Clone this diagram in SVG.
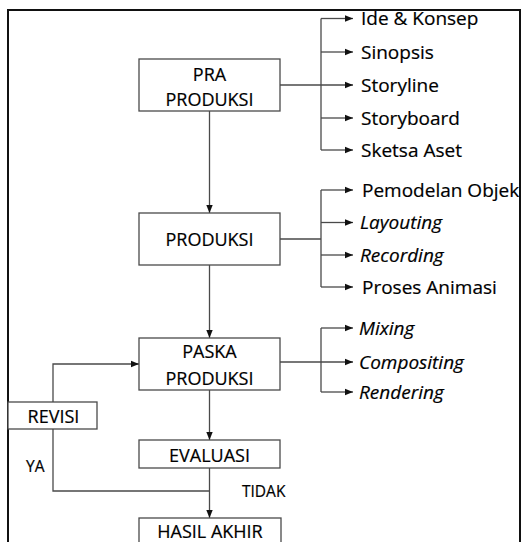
<svg xmlns="http://www.w3.org/2000/svg" width="525" height="542" viewBox="0 0 525 542">
<style>
.box{fill:#fff;stroke:#4a4a4a;stroke-width:1.3}
.bt{font-family:"Open Sans","Noto Sans",sans-serif;font-size:18px;fill:#000;stroke:#000;stroke-width:0.2;text-anchor:middle}
.it{font-family:"Open Sans","Noto Sans",sans-serif;font-size:19px;fill:#000;stroke:#000;stroke-width:0.2}
.itl{font-style:italic}
.lb{font-family:"Open Sans","Noto Sans",sans-serif;font-size:15.5px;fill:#000;stroke:#000;stroke-width:0.2}
.ln{fill:none;stroke:#4a4a4a;stroke-width:1.3}
.ar{marker-end:url(#ah)}
</style>
<defs>
<marker id="ah" markerUnits="userSpaceOnUse" markerWidth="9" markerHeight="8" refX="8" refY="4" orient="auto">
<path d="M0,0.8 L8,4 L0,7.2 Z" fill="#111"/>
</marker>
</defs>
<rect width="525" height="542" fill="#fff"/>
<rect x="8" y="10" width="512" height="545" fill="none" stroke="#111" stroke-width="2"/>
<g id="connectors">
<path class="ln ar" d="M209.5,111 V213"/>
<path class="ln ar" d="M209.5,265 V338"/>
<path class="ln ar" d="M209.5,390 V440"/>
<path class="ln ar" d="M209.5,468 V518"/>
<path class="ln ar" d="M53,402 V364 H139"/>
<path class="ln" d="M53,429 V491 H209.5"/>
<path class="ln" d="M321,18.5 V150"/>
<path class="ln ar" d="M321,18.5 H353"/>
<path class="ln ar" d="M321,52 H353"/>
<path class="ln ar" d="M280,85 H353"/>
<path class="ln ar" d="M321,118 H353"/>
<path class="ln ar" d="M321,150 H353"/>
<path class="ln" d="M280,239 H321 M321,190 V287"/>
<path class="ln ar" d="M321,190 H353"/>
<path class="ln ar" d="M321,222.5 H353"/>
<path class="ln ar" d="M321,255 H353"/>
<path class="ln ar" d="M321,287 H353"/>
<path class="ln" d="M321,328 V392"/>
<path class="ln ar" d="M321,328 H353"/>
<path class="ln ar" d="M280,362 H353"/>
<path class="ln ar" d="M321,392 H353"/>
</g>
<g id="pra-produksi"><rect class="box" x="139" y="59" width="141" height="52"/><text class="bt" x="209.5" y="80.5">PRA</text><text class="bt" x="209.5" y="106">PRODUKSI</text></g>
<g id="produksi"><rect class="box" x="139" y="213" width="141" height="52"/><text class="bt" x="209.5" y="246">PRODUKSI</text></g>
<g id="paska-produksi"><rect class="box" x="139" y="338" width="141" height="52"/><text class="bt" x="209.5" y="358">PASKA</text><text class="bt" x="209.5" y="385">PRODUKSI</text></g>
<g id="revisi"><rect class="box" x="8" y="402" width="89" height="27"/><text class="bt" x="53.5" y="423">REVISI</text></g>
<g id="evaluasi"><rect class="box" x="139" y="440" width="141" height="28"/><text class="bt" x="209.5" y="461.5">EVALUASI</text></g>
<g id="hasil-akhir"><rect class="box" x="139" y="518" width="142" height="40"/><text class="bt" x="210" y="538">HASIL AKHIR</text></g>
<g id="labels"><text class="lb" x="26" y="472">YA</text><text class="lb" x="242" y="497">TIDAK</text></g>
<g id="pra-items">
<text class="it" x="361" y="25">Ide &amp; Konsep</text>
<text class="it" x="361" y="58.5">Sinopsis</text>
<text class="it" x="361" y="91.5">Storyline</text>
<text class="it" x="361" y="124.5">Storyboard</text>
<text class="it" x="361" y="156.5">Sketsa Aset</text>
</g>
<g id="produksi-items">
<text class="it" x="362" y="196.5">Pemodelan Objek</text>
<text class="it itl" x="360" y="229">Layouting</text>
<text class="it itl" x="360" y="261.5">Recording</text>
<text class="it" x="362" y="293.5">Proses Animasi</text>
</g>
<g id="paska-items">
<text class="it itl" x="359" y="334.5">Mixing</text>
<text class="it itl" x="359" y="368.5">Compositing</text>
<text class="it itl" x="359" y="398.5">Rendering</text>
</g>
</svg>
